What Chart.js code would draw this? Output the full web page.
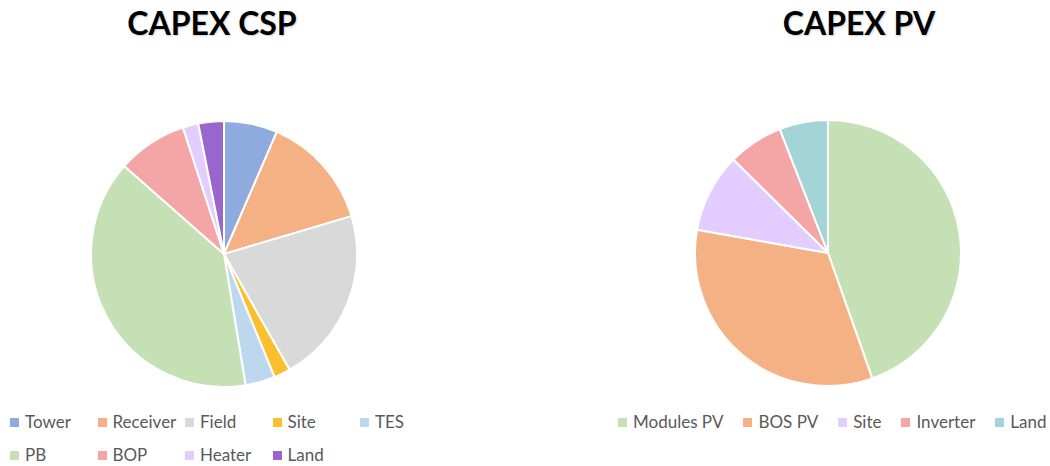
<!DOCTYPE html>
<html>
<head>
<meta charset="utf-8">
<script src="https://cdn.jsdelivr.net/npm/chart.js@4.4.1/dist/chart.umd.min.js"></script>
<style>
    body { margin: 0; background: #fff; width: 1050px; height: 466px; position: relative; overflow: hidden; font-family: Lato, "Open Sans", sans-serif; }
    .title { position: absolute; top: 3px; font-weight: bold; font-size: 32px; color: #000; text-shadow: 1px 1px 2px rgba(0,0,0,0.2); white-space: nowrap; transform: translateX(-50%); }
    .chartBox { position: absolute; width: 268px; height: 268px; }
    .legend { position: absolute; font-size: 17px; color: #595959; }
    .legend .item { position: absolute; white-space: nowrap; }
    .legend .box { display: inline-block; width: 9px; height: 9px; margin-right: 6px; vertical-align: 1px; }
    .flow { display: flex; gap: 20px; }
    .flow .item { position: static; }
</style>
</head>
<body>
<div class="title" style="left:212px">CAPEX CSP</div>
<div class="title" style="left:859px">CAPEX PV</div>
<div class="chartBox" style="left:90px; top:120px"><canvas id="chartCSP"></canvas></div>
<div class="chartBox" style="left:694px; top:119px"><canvas id="chartPV"></canvas></div>
<div class="legend" id="legendCSP" style="left:10px; top:411px"></div>
<div class="legend flow" id="legendPV" style="left:618px; top:411px"></div>
<script>
// CSP capex shares (%)
const cspLabels = ['Tower', 'Receiver', 'Field', 'Site', 'TES', 'PB', 'BOP', 'Heater', 'Land'];
const cspValues = [6.5, 13.9, 21.4, 2.0, 3.6, 39.1, 8.5, 1.9, 3.1];
const cspColors = ['#8FAADC', '#F4B183', '#D9D9D9', '#FBBF2D', '#BDD7EE', '#C5E0B4', '#F4A6A6', '#E3CCFF', '#9966CC'];

// PV capex shares (%)
const pvLabels = ['Modules PV', 'BOS PV', 'Site', 'Inverter', 'Land'];
const pvValues = [44.6, 33.2, 9.6, 6.7, 5.9];
const pvColors = ['#C5E0B4', '#F4B183', '#E3CCFF', '#F4A6A6', '#A3D5D6'];

function makePie(id, labels, values, colors) {
    const ctx = document.getElementById(id).getContext('2d');
    return new Chart(ctx, {
        type: 'pie',
        data: {
            labels: labels,
            datasets: [{
                data: values,
                backgroundColor: colors,
                borderColor: '#ffffff',
                borderWidth: 2
            }]
        },
        options: {
            responsive: true,
            maintainAspectRatio: false,
            animation: false,
            layout: { padding: 0 },
            plugins: {
                legend: { display: false },
                tooltip: { enabled: false }
            }
        }
    });
}

makePie('chartCSP', cspLabels, cspValues, cspColors);
makePie('chartPV', pvLabels, pvValues, pvColors);

function itemHtml(label, color) {
    return `<span class="box" style="background:${color}"></span>${label}`;
}

// CSP legend is a 5-column grid over two rows
const legendCSP = document.getElementById('legendCSP');
cspLabels.forEach((label, i) => {
    const el = document.createElement('div');
    el.className = 'item';
    el.style.left = (i % 5) * 87.5 + 'px';
    el.style.top = Math.floor(i / 5) * 33 + 'px';
    el.innerHTML = itemHtml(label, cspColors[i]);
    legendCSP.appendChild(el);
});

const legendPV = document.getElementById('legendPV');
pvLabels.forEach((label, i) => {
    const el = document.createElement('div');
    el.className = 'item';
    el.innerHTML = itemHtml(label, pvColors[i]);
    legendPV.appendChild(el);
});
</script>
</body>
</html>
